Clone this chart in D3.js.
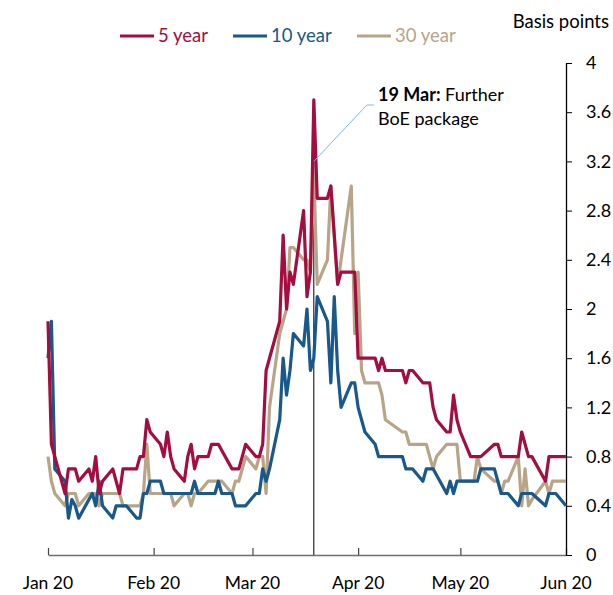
<!DOCTYPE html>
<html>
<head>
<meta charset="utf-8">
<script src="https://cdn.jsdelivr.net/npm/d3@7"></script>
<style>
  body { margin: 0; background: #fff; }
  svg text { font-family: Lato, "Open Sans", sans-serif; }
</style>
</head>
<body>
<div id="chart"></div>
<script>
// business days, 2020 (MM-DD)
var dates = [
  "01-01","01-02","01-03","01-06","01-07","01-08","01-09","01-10","01-13","01-14","01-15","01-16","01-17","01-20","01-21","01-22","01-23","01-24","01-27","01-28","01-29","01-30","01-31",
  "02-03","02-04","02-05","02-06","02-07","02-10","02-11","02-12","02-13","02-14","02-17","02-18","02-19","02-20","02-21","02-24","02-25","02-26","02-27","02-28",
  "03-02","03-03","03-04","03-05","03-06","03-09","03-10","03-11","03-12","03-13","03-16","03-17","03-18","03-19","03-20","03-23","03-24","03-25","03-26","03-27","03-30","03-31",
  "04-01","04-02","04-03","04-06","04-07","04-08","04-09","04-14","04-15","04-16","04-17","04-20","04-21","04-22","04-23","04-24","04-27","04-28","04-29","04-30",
  "05-01","05-04","05-05","05-06","05-07","05-11","05-12","05-13","05-14","05-15","05-18","05-19","05-20","05-21","05-22","05-26","05-27","05-28","05-29",
  "06-01"
];

var fiveYear = [
  1.9,0.9,0.8,0.5,0.7,0.7,0.7,0.6,0.7,0.6,0.8,0.5,0.6,0.7,0.6,0.5,0.7,0.7,0.7,0.8,0.8,1.1,1.0,
  0.9,0.8,1.0,0.8,0.7,0.6,0.8,0.9,0.7,0.8,0.8,0.9,0.9,0.9,0.85,0.7,0.7,0.7,0.8,0.9,
  0.8,0.8,0.9,1.5,1.6,1.9,2.6,2.0,2.3,2.2,2.8,2.1,2.3,3.7,2.9,2.9,3.0,2.6,2.2,2.3,2.3,2.3,
  1.6,1.6,1.6,1.6,1.5,1.6,1.5,1.5,1.4,1.5,1.5,1.4,1.4,1.4,1.2,1.1,1.0,1.0,1.3,1.1,
  1.0,0.8,0.8,0.8,0.8,0.9,0.9,0.8,0.8,0.8,0.8,1.0,0.9,0.8,0.8,0.6,0.8,0.8,0.8,
  0.8
];
var tenYear = [
  1.6,1.9,0.7,0.6,0.3,0.45,0.4,0.3,0.45,0.5,0.4,0.6,0.4,0.3,0.4,0.4,0.4,0.4,0.3,0.3,0.5,0.5,0.6,
  0.6,0.5,0.5,0.5,0.5,0.5,0.5,0.5,0.6,0.5,0.5,0.5,0.5,0.6,0.5,0.5,0.4,0.4,0.4,0.4,
  0.5,0.5,0.7,0.6,0.7,1.1,1.6,1.3,1.5,1.8,1.7,2.0,1.5,1.6,2.1,1.9,1.4,2.1,1.5,1.2,1.4,1.4,
  1.2,1.1,1.0,0.9,0.8,0.8,0.8,0.8,0.7,0.7,0.7,0.6,0.7,0.7,0.7,0.65,0.5,0.6,0.5,0.6,
  0.6,0.6,0.6,0.6,0.7,0.7,0.6,0.5,0.5,0.5,0.4,0.5,0.5,0.5,0.5,0.4,0.5,0.5,0.5,
  0.4
];
var thirtyYear = [
  0.8,0.6,0.5,0.4,0.5,0.5,0.5,0.4,0.5,0.5,0.5,0.4,0.5,0.5,0.5,0.5,0.4,0.4,0.4,0.4,0.5,0.9,0.5,
  0.5,0.5,0.5,0.5,0.4,0.5,0.5,0.4,0.5,0.5,0.6,0.6,0.6,0.6,0.6,0.5,0.6,0.6,0.7,0.8,
  0.7,0.8,0.8,0.5,1.2,1.8,1.9,2.0,2.5,2.5,2.4,2.4,2.3,3.1,2.2,2.4,3.0,2.6,2.2,2.4,3.0,1.8,
  2.3,1.5,1.4,1.4,1.4,1.3,1.1,1.0,1.0,0.9,0.9,0.9,0.9,0.8,0.7,0.8,0.9,0.9,0.9,0.9,
  0.6,0.6,0.6,0.8,0.7,0.6,0.6,0.5,0.6,0.6,0.8,0.4,0.7,0.4,0.45,0.6,0.5,0.6,0.6,
  0.6
];

var seriesNames = ["5 year", "10 year", "30 year"];
var seriesColors = ["#a50d3e", "#18588b", "#b8a486"];

var xTickDates = ["01-01","02-01","03-01","04-01","05-01","06-01"];
var xTickLabels = ["Jan 20","Feb 20","Mar 20","Apr 20","May 20","Jun 20"];
var yTicks = [0, 0.4, 0.8, 1.2, 1.6, 2, 2.4, 2.8, 3.2, 3.6, 4];

var eventDate = "03-19";

var parse = d3.timeParse("%Y-%m-%d");
function toDate(s) { return parse("2020-" + s); }

var W = 613, H = 595;
var svg = d3.select("#chart").append("svg")
  .attr("width", W).attr("height", H);

var x = d3.scaleTime()
  .domain([toDate("01-01"), toDate("06-01")])
  .range([48, 566]);
var y = d3.scaleLinear()
  .domain([0, 4])
  .range([555, 63]);

// X axis (ticks point up)
var xAxis = svg.append("g")
  .attr("transform", "translate(0," + y(0) + ")")
  .call(d3.axisTop(x)
    .tickValues(xTickDates.map(toDate))
    .tickSize(7)
    .tickSizeOuter(0)
    .tickFormat(function(d, i) { return ""; }));
xAxis.select(".domain").attr("stroke", "#6e6e6e").attr("stroke-width", 1.3);
xAxis.selectAll(".tick line").attr("stroke", "#444").attr("stroke-width", 1.2);

svg.append("g").selectAll("text")
  .data(xTickDates)
  .enter().append("text")
  .attr("x", function(d) { return x(toDate(d)); })
  .attr("y", 589)
  .attr("text-anchor", "middle")
  .style("font-size", "17.5px")
  .attr("fill", "#000")
  .text(function(d, i) { return xTickLabels[i]; });

// Y axis on the right
var yAxis = svg.append("g")
  .attr("transform", "translate(" + x(toDate("06-01")) + ",0)")
  .call(d3.axisRight(y)
    .tickValues(yTicks)
    .tickSize(6)
    .tickSizeOuter(0)
    .tickPadding(14)
    .tickFormat(function(d) { return String(d); }));
yAxis.select(".domain").attr("stroke", "#000").attr("stroke-width", 1.3);
yAxis.selectAll(".tick line").attr("stroke", "#000");
yAxis.selectAll("text")
  .style("font-family", "Lato, 'Open Sans', sans-serif")
  .style("font-size", "18px")
  .attr("fill", "#000");

svg.append("text")
  .attr("x", 609)
  .attr("y", 28)
  .attr("text-anchor", "end")
  .style("font-size", "18.5px")
  .attr("fill", "#000")
  .text("Basis points");

// event line
svg.append("line")
  .attr("x1", x(toDate(eventDate))).attr("x2", x(toDate(eventDate)))
  .attr("y1", y(3.2)).attr("y2", y(0))
  .attr("stroke", "#000").attr("stroke-width", 1);

// series
var allSeries = [fiveYear, tenYear, thirtyYear];
var line = d3.line()
  .x(function(d, i) { return x(toDate(dates[i])); })
  .y(function(d) { return y(d); });

[2, 1, 0].forEach(function(k) {
  svg.append("path")
    .datum(allSeries[k])
    .attr("fill", "none")
    .attr("stroke", seriesColors[k])
    .attr("stroke-width", 3.2)
    .attr("stroke-linejoin", "round")
    .attr("d", line);
});

// annotation
var ex = x(toDate(eventDate));
svg.append("polyline")
  .attr("points", ex + "," + y(3.2) + " " + (ex + 53) + "," + 105 + " " + (ex + 60) + "," + 105)
  .attr("fill", "none")
  .attr("stroke", "#7ab8ee")
  .attr("stroke-width", 1);

var ann = svg.append("text")
  .attr("x", 378)
  .attr("y", 101)
  .style("font-size", "18px")
  .attr("fill", "#000");
ann.append("tspan").style("font-weight", "bold").text("19 Mar:");
ann.append("tspan").text(" Further");
svg.append("text")
  .attr("x", 378)
  .attr("y", 125)
  .style("font-size", "18px")
  .attr("fill", "#000")
  .text("BoE package");

// legend
var legendX = [120, 233, 357];
var lg = svg.append("g");
seriesNames.forEach(function(name, i) {
  lg.append("line")
    .attr("x1", legendX[i]).attr("x2", legendX[i] + 34)
    .attr("y1", 36).attr("y2", 36)
    .attr("stroke", seriesColors[i])
    .attr("stroke-width", 3);
  lg.append("text")
    .attr("x", legendX[i] + 38)
    .attr("y", 42)
    .style("font-size", "18.5px")
    .attr("fill", seriesColors[i])
    .text(name);
});
</script>
</body>
</html>
